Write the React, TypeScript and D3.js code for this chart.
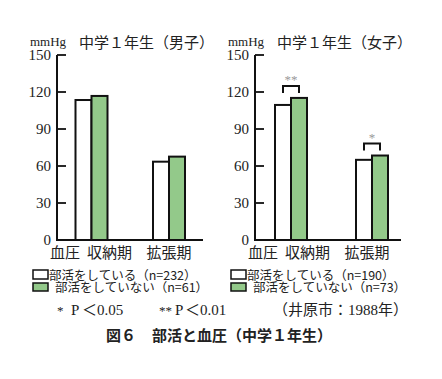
import React from "react";
import * as d3 from "d3";

const categories = ["収納期", "拡張期"];
const yTicks = [0, 30, 60, 90, 120, 150];
const boysActive = [113.5, 63.5];
const boysInactive = [116.8, 67.6];
const girlsActive = [109.5, 65];
const girlsInactive = [115.2, 68.5];
const boysLegend = ["部活をしている（n=232）", "部活をしていない（n=61）"];
const girlsLegend = ["部活をしている（n=190）", "部活をしていない（n=73）"];
const girlsSig = ["**", "*"];

const GREEN = "#93c98a";
const SERIF = "'Liberation Serif', 'DejaVu Serif', serif";
const JP = "'Noto Sans CJK JP', sans-serif";

const y = d3.scaleLinear().domain([0, 150]).range([240, 55]);

function Panel({ ax, axEnd, c0, c1, title, active, inactive, legend, sig }: any) {
  const x = d3.scalePoint<string>().domain(categories).range([c0, c1]);
  const bw = 16;
  const labelX = [ax + 30, ax + 89.5];
  return (
    <g>
      <text x={ax - 27} y={45.5} fontFamily={SERIF} fontSize={13} fill="#222">mmHg</text>
      <text x={ax + 22} y={48} fontFamily={JP} fontSize={15} fill="#222">{title}</text>
      {yTicks.map((t) => (
        <g key={t}>
          <line x1={ax} x2={ax + 9} y1={y(t)} y2={y(t)} stroke="#111" strokeWidth={1.8} />
          <text x={ax - 6} y={y(t) + 5} textAnchor="end" fontFamily={SERIF} fontSize={15} fill="#222">{t}</text>
        </g>
      ))}
      {categories.map((c, i) => (
        <g key={c}>
          <rect x={x(c)! - bw} y={y(active[i])} width={bw} height={y(0) - y(active[i])} fill="#fff" stroke="#111" strokeWidth={2} />
          <rect x={x(c)!} y={y(inactive[i])} width={bw} height={y(0) - y(inactive[i])} fill={GREEN} stroke="#111" strokeWidth={2} />
          {sig && (
            <g>
              <path
                d={`M${x(c)! - 8},${y(inactive[i]) - 5} V${y(inactive[i]) - 12} H${x(c)! + 8} V${y(inactive[i]) - 5}`}
                fill="none" stroke="#111" strokeWidth={2}
              />
              <text x={x(c)!} y={y(inactive[i]) - 14} textAnchor="middle" fontFamily={SERIF} fontSize={13} fill="#999">{sig[i]}</text>
            </g>
          )}
        </g>
      ))}
      <line x1={ax} x2={ax} y1={y(150)} y2={y(0)} stroke="#111" strokeWidth={2} />
      <line x1={ax - 1} x2={axEnd} y1={y(0)} y2={y(0)} stroke="#111" strokeWidth={2} />
      <text x={ax - 7} y={258} fontFamily={JP} fontSize={15} fill="#222">血圧</text>
      {categories.map((c, i) => (
        <text key={c} x={labelX[i]} y={258} fontFamily={JP} fontSize={15} fill="#222">{c}</text>
      ))}
      <rect x={ax - 24} y={270} width={15} height={9} fill="#fff" stroke="#111" strokeWidth={1.5} />
      <text x={ax - 8} y={279.5} fontFamily={JP} fontSize={12.5} fill="#222">{legend[0]}</text>
      <rect x={ax - 24} y={283} width={15} height={8} fill={GREEN} stroke="#111" strokeWidth={1.5} />
      <text x={ax - 2} y={292} fontFamily={JP} fontSize={12.5} fill="#222">{legend[1]}</text>
    </g>
  );
}

export default function App() {
  const foot = { fontFamily: `${SERIF}, ${JP}`, fontSize: 15, fill: "#222" };
  return (
    <svg width={442} height={379} style={{ display: "block", position: "absolute", left: 0, top: 0, background: "#fff" }}>
      <Panel ax={57} axEnd={203} c0={91.5} c1={169} title="中学１年生（男子）" active={boysActive} inactive={boysInactive} legend={boysLegend} />
      <Panel ax={255} axEnd={401} c0={291} c1={372} title="中学１年生（女子）" active={girlsActive} inactive={girlsInactive} legend={girlsLegend} sig={girlsSig} />
      <text y={315} {...foot}>
        <tspan x={57} fontSize={13}>*</tspan>
        <tspan x={71}>P</tspan>
        <tspan x={82}>＜</tspan>
        <tspan x={97}>0.05</tspan>
      </text>
      <text y={315} {...foot}>
        <tspan x={159} fontSize={13}>**</tspan>
        <tspan x={175}>P</tspan>
        <tspan x={185}>＜</tspan>
        <tspan x={200}>0.01</tspan>
      </text>
      <text x={273} y={315} {...foot}>（井原市：1988年）</text>
      <text y={341} fontFamily={JP} fontSize={15} fontWeight="bold" fill="#222">
        <tspan x={106}>図６</tspan>
        <tspan x={152}>部活と血圧（中学１年生）</tspan>
      </text>
    </svg>
  );
}
